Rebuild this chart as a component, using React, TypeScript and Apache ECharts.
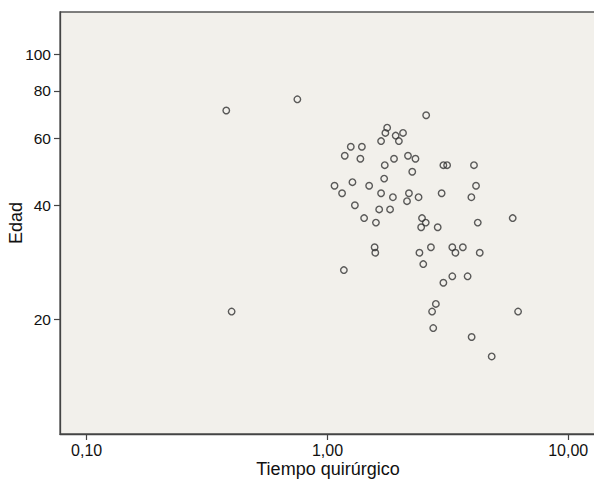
import React, { useEffect, useRef } from "react";
import * as echarts from "echarts";

// Tiempo quirúrgico (x, log scale) and Edad (y, log scale)
const tiempo = [
  0.38, 0.75, 0.4, 2.57, 1.77, 1.74, 1.92, 2.06, 1.67, 1.98,
  1.25, 1.39, 1.18, 1.37, 1.73, 1.89, 2.16, 2.32, 2.25, 3.03,
  3.14, 4.06, 1.07, 1.15, 1.27, 1.49, 1.72, 1.67, 1.87, 2.18,
  2.14, 2.39, 2.98, 3.96, 4.14, 1.3, 1.64, 1.82, 1.42, 1.59,
  2.47, 2.56, 2.45, 2.87, 4.21, 5.88, 1.57, 1.58, 1.17, 2.41,
  2.69, 2.5, 3.3, 3.65, 3.4, 4.29, 3.3, 3.03, 3.82, 2.82,
  2.72, 2.75, 3.97, 4.81, 6.19,
];
const edad = [
  71, 76, 21, 69, 64, 62, 61, 62, 59, 59,
  57, 57, 54, 53, 51, 53, 54, 53, 49, 51,
  51, 51, 45, 43, 46, 45, 47, 43, 42, 43,
  41, 42, 43, 42, 45, 40, 39, 39, 37, 36,
  37, 36, 35, 35, 36, 37, 31, 30, 27, 30,
  31, 28, 31, 31, 30, 30, 26, 25, 26, 22,
  21, 19, 18, 16, 21,
];
const xTicks = [0.1, 1, 10];
const yTicks = [20, 40, 60, 80, 100];
const xRange = [0.0775, 13.04];
const yRange = [10, 129];
const xTitle = "Tiempo quirúrgico";
const yTitle = "Edad";

export default function App() {
  const ref = useRef<HTMLDivElement>(null);
  useEffect(() => {
    if (!ref.current) return;
    const chart = echarts.init(ref.current, undefined, { renderer: "svg" });
    const font = "'Liberation Sans', Arial, Helvetica, sans-serif";
    chart.setOption({
      animation: false,
      backgroundColor: "#ffffff",
      grid: {
        left: 60,
        right: -2,
        top: 12,
        bottom: 45,
        show: true,
        containLabel: false,
        outerBoundsMode: "none",
        backgroundColor: "#F2F0EB",
        borderColor: "#555555",
        borderWidth: 1.3,
      },
      xAxis: {
        type: "log",
        logBase: 10,
        min: xRange[0],
        max: xRange[1],
        name: xTitle,
        nameLocation: "middle",
        nameGap: 26,
        nameMoveOverlap: false,
        nameTextStyle: { fontFamily: font, fontSize: 18, color: "#111" },
        axisLine: { show: true, lineStyle: { color: "#444", width: 1.3 } },
        axisTick: {
          show: true,
          length: 6,
          lineStyle: { color: "#444", width: 1.2 },
          customValues: xTicks,
        },
        axisLabel: {
          fontFamily: font,
          fontSize: 16,
          color: "#111",
          margin: 8,
          customValues: xTicks,
          formatter: (v: number) => v.toFixed(2).replace(".", ","),
        },
        splitLine: { show: false },
      },
      yAxis: {
        type: "log",
        logBase: 10,
        min: yRange[0],
        max: yRange[1],
        name: yTitle,
        nameLocation: "middle",
        nameGap: 35,
        nameRotate: 90,
        nameMoveOverlap: false,
        nameTextStyle: { fontFamily: font, fontSize: 18, color: "#111" },
        axisLine: { show: true, lineStyle: { color: "#444", width: 1.3 } },
        axisTick: {
          show: true,
          length: 6,
          lineStyle: { color: "#444", width: 1.2 },
          customValues: yTicks,
        },
        axisLabel: {
          fontFamily: font,
          fontSize: 15.5,
          color: "#111",
          margin: 9,
          customValues: yTicks,
          formatter: (v: number) => String(Math.round(v)),
        },
        splitLine: { show: false },
      },
      series: [
        {
          type: "scatter",
          data: tiempo.map((t, i) => [t, edad[i]]),
          symbol: "circle",
          symbolSize: 6.5,
          itemStyle: {
            color: "rgba(0,0,0,0)",
            borderColor: "#333333",
            borderWidth: 1.4,
          },
        },
      ],
    });
    return () => chart.dispose();
  }, []);
  return (
    <div
      ref={ref}
      style={{ position: "fixed", left: 0, top: 0, width: 594, height: 479 }}
    />
  );
}
